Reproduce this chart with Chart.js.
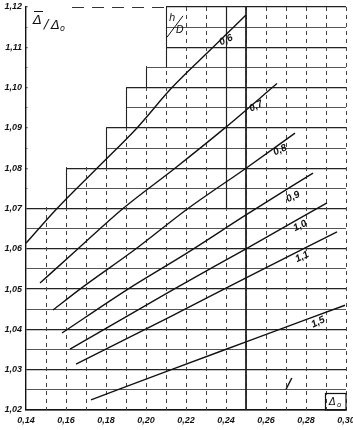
<!DOCTYPE html>
<html>
<head>
<meta charset="utf-8">
<script src="https://cdn.jsdelivr.net/npm/chart.js@4.4.0/dist/chart.umd.min.js"></script>
<style>
  html, body { margin: 0; padding: 0; background: #fff; }
  #wrap { width: 353px; height: 430px; }
</style>
</head>
<body>
<div id="wrap"><canvas id="chart"></canvas></div>
<script>
// h/D curves (x = Δo, y = Δ̄/Δo)
const curveNames = ['0,6', '0,7', '0,8', '0,9', '1,0', '1,1', '1,5'];
const c06x = [0.140, 0.1555, 0.1755, 0.1955, 0.213, 0.2335, 0.250];
const c06y = [1.0614, 1.070, 1.080, 1.090, 1.100, 1.110, 1.118];
const c07x = [0.147, 0.166, 0.1885, 0.2145, 0.2395, 0.2655];
const c07y = [1.0515, 1.060, 1.070, 1.080, 1.090, 1.101];
const c08x = [0.1535, 0.167, 0.195, 0.221, 0.250, 0.2745];
const c08y = [1.0448, 1.050, 1.060, 1.070, 1.080, 1.0887];
const c09x = [0.158, 0.191, 0.220, 0.250, 0.2835];
const c09y = [1.0391, 1.050, 1.0588, 1.0684, 1.0788];
const c10x = [0.162, 0.214, 0.250, 0.2905];
const c10y = [1.0351, 1.050, 1.060, 1.0714];
const c11x = [0.165, 0.212, 0.250, 0.2955];
const c11y = [1.0314, 1.0431, 1.0528, 1.0642];
const c15x = [0.1725, 0.212, 0.250, 0.2995];
const c15y = [1.0225, 1.0299, 1.0369, 1.046];

// where each curve label sits
const labelX = [0.240, 0.255, 0.267, 0.2735, 0.277, 0.278, 0.286];
const labelY = [1.1118, 1.0954, 1.0845, 1.0729, 1.0657, 1.058, 1.0418];

// empty staircase in the upper left of the sheet
const stepX = [0.16, 0.18, 0.19, 0.20, 0.21];
const stepY = [1.07, 1.08, 1.09, 1.10, 1.105, 1.12];

const curvesX = [c06x, c07x, c08x, c09x, c10x, c11x, c15x];
const curvesY = [c06y, c07y, c08y, c09y, c10y, c11y, c15y];

function comma(v) { return v.toFixed(2).replace('.', ','); }
function isHundredth(v, n) { return Math.abs(v * 100 / n - Math.round(v * 100 / n)) < 1e-6; }

const datasets = curvesX.map((xs, i) => ({
  label: curveNames[i],
  data: xs.map((x, j) => ({ x: x, y: curvesY[i][j] })),
  showLine: true,
  borderColor: '#111',
  borderWidth: 1.4,
  pointRadius: 0,
  cubicInterpolationMode: 'monotone',
  fill: false
}));

const tickFont = { family: '"Liberation Sans", Arial', size: 9, style: 'italic', weight: 'bold' };

const sheetPlugin = {
  id: 'sheet',
  beforeDatasetsDraw(chart) {
    const { ctx, chartArea: a } = chart;
    const x = chart.scales.x, y = chart.scales.y;
    ctx.save();

    // dashed verticals every 0.01
    ctx.strokeStyle = '#444';
    ctx.lineWidth = 1;
    ctx.setLineDash([4, 4]);
    x.ticks.forEach(t => {
      if (t.value <= 0.1405) return;
      const px = Math.round(x.getPixelForValue(t.value)) + 0.5;
      ctx.beginPath();
      ctx.moveTo(px, a.top);
      ctx.lineTo(px, a.bottom);
      ctx.stroke();
    });
    ctx.setLineDash([]);

    // white out the unused corner
    ctx.fillStyle = '#fff';
    ctx.beginPath();
    ctx.moveTo(a.left + 1.5, a.top - 2);
    ctx.lineTo(a.left + 1.5, y.getPixelForValue(stepY[0]) - 1.5);
    for (let i = 0; i < stepX.length; i++) {
      const px = x.getPixelForValue(stepX[i]);
      ctx.lineTo(px, y.getPixelForValue(stepY[i]) - 1.5);
      ctx.lineTo(px, y.getPixelForValue(stepY[i + 1]) - 1.5);
    }
    ctx.closePath();
    ctx.fill();

    // broken top border over the corner
    ctx.strokeStyle = '#333';
    ctx.lineWidth = 1;
    ctx.setLineDash([12, 8]);
    ctx.beginPath();
    ctx.moveTo(x.getPixelForValue(0.163), a.top + 0.5);
    ctx.lineTo(x.getPixelForValue(0.21), a.top + 0.5);
    ctx.stroke();
    ctx.setLineDash([]);

    // step edges
    ctx.strokeStyle = '#222';
    ctx.lineWidth = 1.1;
    for (let i = 0; i < stepX.length; i++) {
      const px = Math.round(x.getPixelForValue(stepX[i])) + 0.5;
      ctx.beginPath();
      ctx.moveTo(px, y.getPixelForValue(stepY[i]));
      ctx.lineTo(px, y.getPixelForValue(stepY[i + 1]));
      ctx.stroke();
    }

    // heavy verticals
    ctx.lineWidth = 1.2;
    let px = Math.round(x.getPixelForValue(0.24)) + 0.5;
    ctx.beginPath();
    ctx.moveTo(px, a.top);
    ctx.lineTo(px, y.getPixelForValue(1.07));
    ctx.stroke();
    ctx.lineWidth = 1.8;
    px = Math.round(x.getPixelForValue(0.25));
    ctx.beginPath();
    ctx.moveTo(px, a.top);
    ctx.lineTo(px, a.bottom);
    ctx.stroke();
    ctx.restore();
  },
  afterDatasetsDraw(chart) {
    const { ctx, chartArea: a } = chart;
    const x = chart.scales.x, y = chart.scales.y;
    ctx.save();
    ctx.fillStyle = '#111';
    ctx.strokeStyle = '#111';

    // curve labels
    ctx.font = 'italic bold 10px "Liberation Sans", Arial';
    ctx.textAlign = 'center';
    ctx.textBaseline = 'middle';
    curveNames.forEach((name, i) => {
      ctx.save();
      ctx.translate(x.getPixelForValue(labelX[i]), y.getPixelForValue(labelY[i]));
      ctx.rotate(-0.45);
      ctx.fillText(name, 0, 0);
      ctx.restore();
    });

    // axis title, top left
    ctx.font = 'italic 13px "DejaVu Sans", sans-serif';
    ctx.textAlign = 'left';
    ctx.textBaseline = 'alphabetic';
    ctx.fillText('Δ', a.left + 7, a.top + 17);
    ctx.lineWidth = 1;
    ctx.beginPath();
    ctx.moveTo(a.left + 8, a.top + 4.5);
    ctx.lineTo(a.left + 17, a.top + 4.5);
    ctx.stroke();
    ctx.fillText('/', a.left + 18, a.top + 21);
    ctx.fillText('Δ', a.left + 25, a.top + 22);
    ctx.font = 'italic 8px "DejaVu Sans", sans-serif';
    ctx.fillText('o', a.left + 34, a.top + 24);

    // h/D
    ctx.font = 'italic 10px "DejaVu Sans", sans-serif';
    ctx.fillText('h', x.getPixelForValue(0.2115), y.getPixelForValue(1.1165));
    ctx.fillText('D', x.getPixelForValue(0.215), y.getPixelForValue(1.1135));
    ctx.lineWidth = 1;
    ctx.beginPath();
    ctx.moveTo(x.getPixelForValue(0.2105), y.getPixelForValue(1.1125));
    ctx.lineTo(x.getPixelForValue(0.2185), y.getPixelForValue(1.1178));
    ctx.stroke();

    // Δo box, bottom right
    const bx = x.getPixelForValue(0.2895), by = y.getPixelForValue(1.0242);
    ctx.lineWidth = 1.2;
    ctx.strokeRect(Math.round(bx) + 0.5, Math.round(by) + 0.5, a.right - Math.round(bx) - 0.5, a.bottom - Math.round(by) - 0.5);
    ctx.font = 'italic 10px "DejaVu Sans", sans-serif';
    ctx.fillText('Δ', bx + 4, a.bottom - 5);
    ctx.font = 'italic 7px "DejaVu Sans", sans-serif';
    ctx.fillText('o', bx + 12, a.bottom - 3.5);

    // small tick mark near 0.27
    ctx.font = 'italic bold 14px "DejaVu Sans", sans-serif';
    ctx.textAlign = 'center';
    ctx.fillText('/', x.getPixelForValue(0.2715), y.getPixelForValue(1.0255));
    ctx.restore();
  }
};

new Chart(document.getElementById('chart'), {
  type: 'scatter',
  data: { datasets: datasets },
  options: {
    responsive: true,
    maintainAspectRatio: false,
    animation: false,
    events: [],
    layout: { padding: { top: 7, right: 7, left: 0, bottom: 0 } },
    plugins: {
      legend: { display: false },
      tooltip: { enabled: false }
    },
    scales: {
      x: {
        type: 'linear',
        min: 0.14,
        max: 0.30,
        afterFit: s => { s.height = 20; s.paddingLeft = 0; s.paddingRight = 0; },
        border: { display: true, color: '#111', width: 1.4 },
        grid: { display: false, drawTicks: false },
        ticks: {
          stepSize: 0.01,
          autoSkip: false,
          maxRotation: 0,
          padding: 5,
          color: '#111',
          font: tickFont,
          callback: v => isHundredth(v, 2) ? comma(v) : ''
        }
      },
      y: {
        type: 'linear',
        min: 1.02,
        max: 1.12,
        afterFit: s => { s.width = 26; s.paddingTop = 0; s.paddingBottom = 0; },
        border: { display: true, color: '#111', width: 1.4 },
        grid: {
          drawTicks: false,
          color: c => isHundredth(c.tick.value, 1) ? '#222' : '#555',
          lineWidth: c => isHundredth(c.tick.value, 1) ? 1.3 : 1
        },
        ticks: {
          stepSize: 0.005,
          autoSkip: false,
          padding: 4,
          color: '#111',
          font: tickFont,
          callback: v => isHundredth(v, 1) ? comma(v) : ''
        }
      }
    }
  },
  plugins: [sheetPlugin]
});
</script>
</body>
</html>
